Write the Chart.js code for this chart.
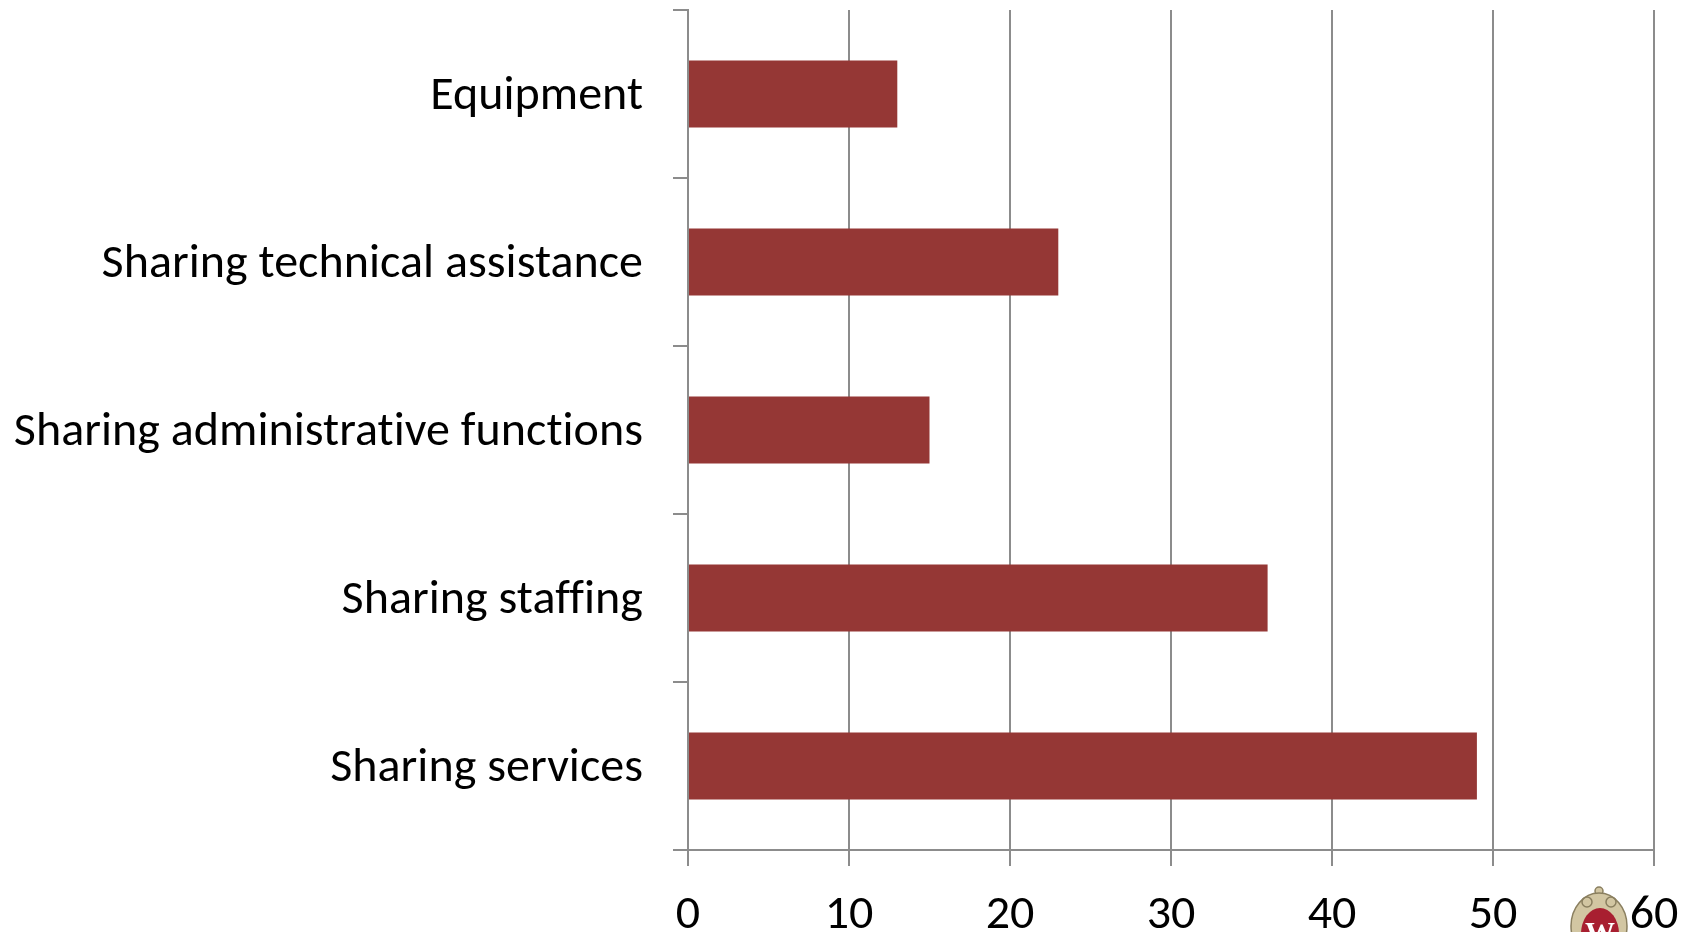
<!DOCTYPE html>
<html>
<head>
<meta charset="utf-8">
<style>
  html, body { margin: 0; padding: 0; background: #fff; }
  #wrap { position: relative; width: 1694px; height: 932px; overflow: hidden; }
  canvas { display: block; }
</style>
<script src="https://cdn.jsdelivr.net/npm/chart.js@4"></script>
</head>
<body>
<div id="wrap"><canvas id="chart" width="1694" height="932"></canvas></div>
<script>
const categories = ["Equipment", "Sharing technical assistance", "Sharing administrative functions", "Sharing staffing", "Sharing services"];
const values = [13, 23, 15, 36, 49];
const tickLabels = [0, 10, 20, 30, 40, 50, 60];

const fontName = "Carlito, 'Open Sans', 'Noto Sans', sans-serif";
const axisColor = "#8c8c8c";

// the source text has no ti/ff ligatures, tiny letter spacing turns them off
// category labels also sit 3px lower than the font's middle baseline gives
const labelTweaks = {
  id: "labelTweaks",
  beforeDraw(chart) {
    chart.ctx.letterSpacing = "0.04px";
    chart.scales.y.getLabelItems().forEach(item => {
      if (!item.moved) {
        item.options.translation[1] += 3;
        item.moved = true;
      }
    });
  }
};

// small crest sitting next to the last tick label
const crest = {
  id: "crest",
  afterDraw(chart) {
    const ctx = chart.ctx;
    ctx.save();
    ctx.fillStyle = "#d2c6a2";
    ctx.strokeStyle = "#8a7f5f";
    ctx.lineWidth = 1.5;
    ctx.beginPath();
    ctx.arc(1599, 891, 4, 0, Math.PI * 2);
    ctx.fill();
    ctx.stroke();
    ctx.beginPath();
    ctx.ellipse(1599, 926, 28, 33, 0, 0, Math.PI * 2);
    ctx.fill();
    ctx.stroke();
    ctx.beginPath();
    ctx.arc(1587, 902, 5, 0, Math.PI * 2);
    ctx.moveTo(1616, 902);
    ctx.arc(1611, 902, 5, 0, Math.PI * 2);
    ctx.stroke();
    ctx.fillStyle = "#a81f30";
    ctx.beginPath();
    ctx.ellipse(1600, 934, 19, 26, 0, 0, Math.PI * 2);
    ctx.fill();
    ctx.fillStyle = "#fff";
    ctx.font = "bold 30px 'Liberation Serif', serif";
    ctx.textAlign = "center";
    ctx.textBaseline = "alphabetic";
    ctx.fillText("W", 1600, 942);
    ctx.restore();
  }
};

new Chart(document.getElementById("chart"), {
  type: "bar",
  data: {
    labels: categories,
    datasets: [{ data: values, backgroundColor: "#953735", categoryPercentage: 0.4, barPercentage: 1 }]
  },
  plugins: [labelTweaks, crest],
  options: {
    indexAxis: "y",
    responsive: false,
    animation: false,
    layout: { padding: { top: 10, left: 0, right: 40, bottom: 0 } },
    plugins: { legend: { display: false }, tooltip: { enabled: false } },
    scales: {
      x: {
        min: 0,
        max: 60,
        afterFit: (scale) => { scale.height = 82; scale.paddingLeft = 0; scale.paddingRight = 0; },
        ticks: {
          stepSize: 10,
          callback: (v) => tickLabels.includes(v) ? String(v) : "",
          color: "#000",
          font: { family: fontName, size: 48 },
          padding: 21,
          maxRotation: 0
        },
        grid: { color: axisColor, lineWidth: 2, tickLength: 16 },
        border: { color: axisColor, width: 2 }
      },
      y: {
        afterFit: (scale) => { scale.width = 688; scale.paddingTop = 0; scale.paddingBottom = 0; },
        ticks: { color: "#000", font: { family: fontName, size: 48 }, padding: 30 },
        grid: { drawOnChartArea: false, color: axisColor, lineWidth: 2, tickLength: 15 },
        border: { color: axisColor, width: 2 }
      }
    }
  }
});
</script>
</body>
</html>
